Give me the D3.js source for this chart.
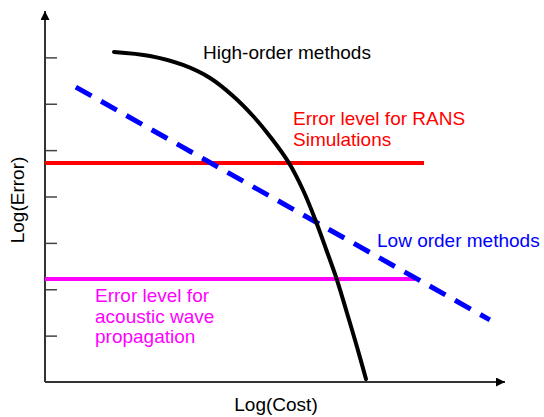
<!DOCTYPE html>
<html>
<head>
<meta charset="utf-8">
<script src="https://cdn.jsdelivr.net/npm/d3@7"></script>
<style>
  html, body { margin: 0; padding: 0; background: #fff; }
  svg { display: block; font-family: "Liberation Sans", Arial, sans-serif; }
</style>
</head>
<body>
<svg id="chart" width="544" height="417"></svg>
<script>
// Axis extents (arbitrary log units) and unlabeled tick positions on the error axis
const xDomain = [0, 10];
const yDomain = [0, 8];
const yTickValues = [1, 2, 3, 4, 5, 6, 7];

// High-order methods: error vs. cost
const highOrderCost  = [1.500, 2.283, 3.000, 3.587, 4.087, 4.522, 4.935, 5.304, 5.609, 5.870, 6.109, 6.348, 6.565, 6.783, 6.978];
const highOrderError = [7.116, 7.030, 6.836, 6.555, 6.167, 5.736, 5.240, 4.722, 4.140, 3.515, 2.868, 2.199, 1.488, 0.755, 0.065];

// Low order methods: straight line between two endpoints
const lowOrderCost  = [0.67, 9.67];
const lowOrderError = [6.36, 1.34];

// Required error levels
const ransLevel = 4.72, ransCostEnd = 8.24;
const acousticLevel = 2.22, acousticCostEnd = 8.11;

const svg = d3.select("#chart");
const x = d3.scaleLinear().domain(xDomain).range([45, 505]);
const y = d3.scaleLinear().domain(yDomain).range([382, 11]);

// Arrowhead marker for the axes
svg.append("defs").append("marker")
  .attr("id", "arrow")
  .attr("viewBox", "0 0 10 10")
  .attr("refX", 10).attr("refY", 5)
  .attr("markerWidth", 9).attr("markerHeight", 9)
  .attr("markerUnits", "userSpaceOnUse")
  .attr("orient", "auto")
  .append("path").attr("d", "M0,0 L10,5 L0,10 Z").attr("fill", "#000");

// Tick marks on the error axis (no labels)
const yAxis = d3.axisRight(y).tickValues(yTickValues).tickSize(12).tickFormat("");
const gy = svg.append("g").attr("transform", `translate(${x(0)},0)`).call(yAxis);
gy.select(".domain").remove();
gy.selectAll(".tick line").attr("stroke", "#444").attr("stroke-width", 1.5);

// Axes with arrows
svg.append("line")
  .attr("x1", x(0)).attr("y1", y(0)).attr("x2", x(0)).attr("y2", y(8))
  .attr("stroke", "#333").attr("stroke-width", 2).attr("marker-end", "url(#arrow)");
svg.append("line")
  .attr("x1", x(0)).attr("y1", y(0)).attr("x2", x(10)).attr("y2", y(0))
  .attr("stroke", "#333").attr("stroke-width", 2).attr("marker-end", "url(#arrow)");

// Error level lines
svg.append("line")
  .attr("x1", x(0)).attr("x2", x(ransCostEnd))
  .attr("y1", y(ransLevel)).attr("y2", y(ransLevel))
  .attr("stroke", "#ff0000").attr("stroke-width", 4);
svg.append("line")
  .attr("x1", x(0)).attr("x2", x(acousticCostEnd))
  .attr("y1", y(acousticLevel)).attr("y2", y(acousticLevel))
  .attr("stroke", "#ff00ff").attr("stroke-width", 4);

// Low order methods (dashed)
const lowPts = lowOrderCost.map((c, i) => [c, lowOrderError[i]]);
svg.append("path")
  .attr("d", d3.line().x(d => x(d[0])).y(d => y(d[1]))(lowPts))
  .attr("fill", "none").attr("stroke", "#0000ff")
  .attr("stroke-width", 5).attr("stroke-dasharray", "18,11");

// High-order methods curve
const highPts = highOrderCost.map((c, i) => [c, highOrderError[i]]);
svg.append("path")
  .attr("d", d3.line().curve(d3.curveCatmullRom.alpha(0.5)).x(d => x(d[0])).y(d => y(d[1]))(highPts))
  .attr("fill", "none").attr("stroke", "#000")
  .attr("stroke-width", 4).attr("stroke-linecap", "round");

// Annotations
function label(lines, px, py, color, lh) {
  const t = svg.append("text").attr("x", px).attr("y", py)
    .attr("fill", color).attr("font-size", 19);
  lines.forEach((s, i) => t.append("tspan").attr("x", px).attr("dy", i === 0 ? 0 : lh).text(s));
}
label(["High-order methods"], 203, 59, "#000", 21);
label(["Error level for RANS", "Simulations"], 293, 125, "#ff0000", 21);
label(["Low order methods"], 377, 247, "#0000ff", 21);
label(["Error level for", "acoustic wave", "propagation"], 95, 302, "#ff00ff", 20.5);

// Axis titles
svg.append("text").attr("x", 276).attr("y", 411).attr("text-anchor", "middle")
  .attr("font-size", 19).attr("fill", "#000").text("Log(Cost)");
svg.append("text").attr("transform", "translate(24,200) rotate(-90)")
  .attr("text-anchor", "middle").attr("font-size", 19).attr("fill", "#000").text("Log(Error)");
</script>
</body>
</html>
